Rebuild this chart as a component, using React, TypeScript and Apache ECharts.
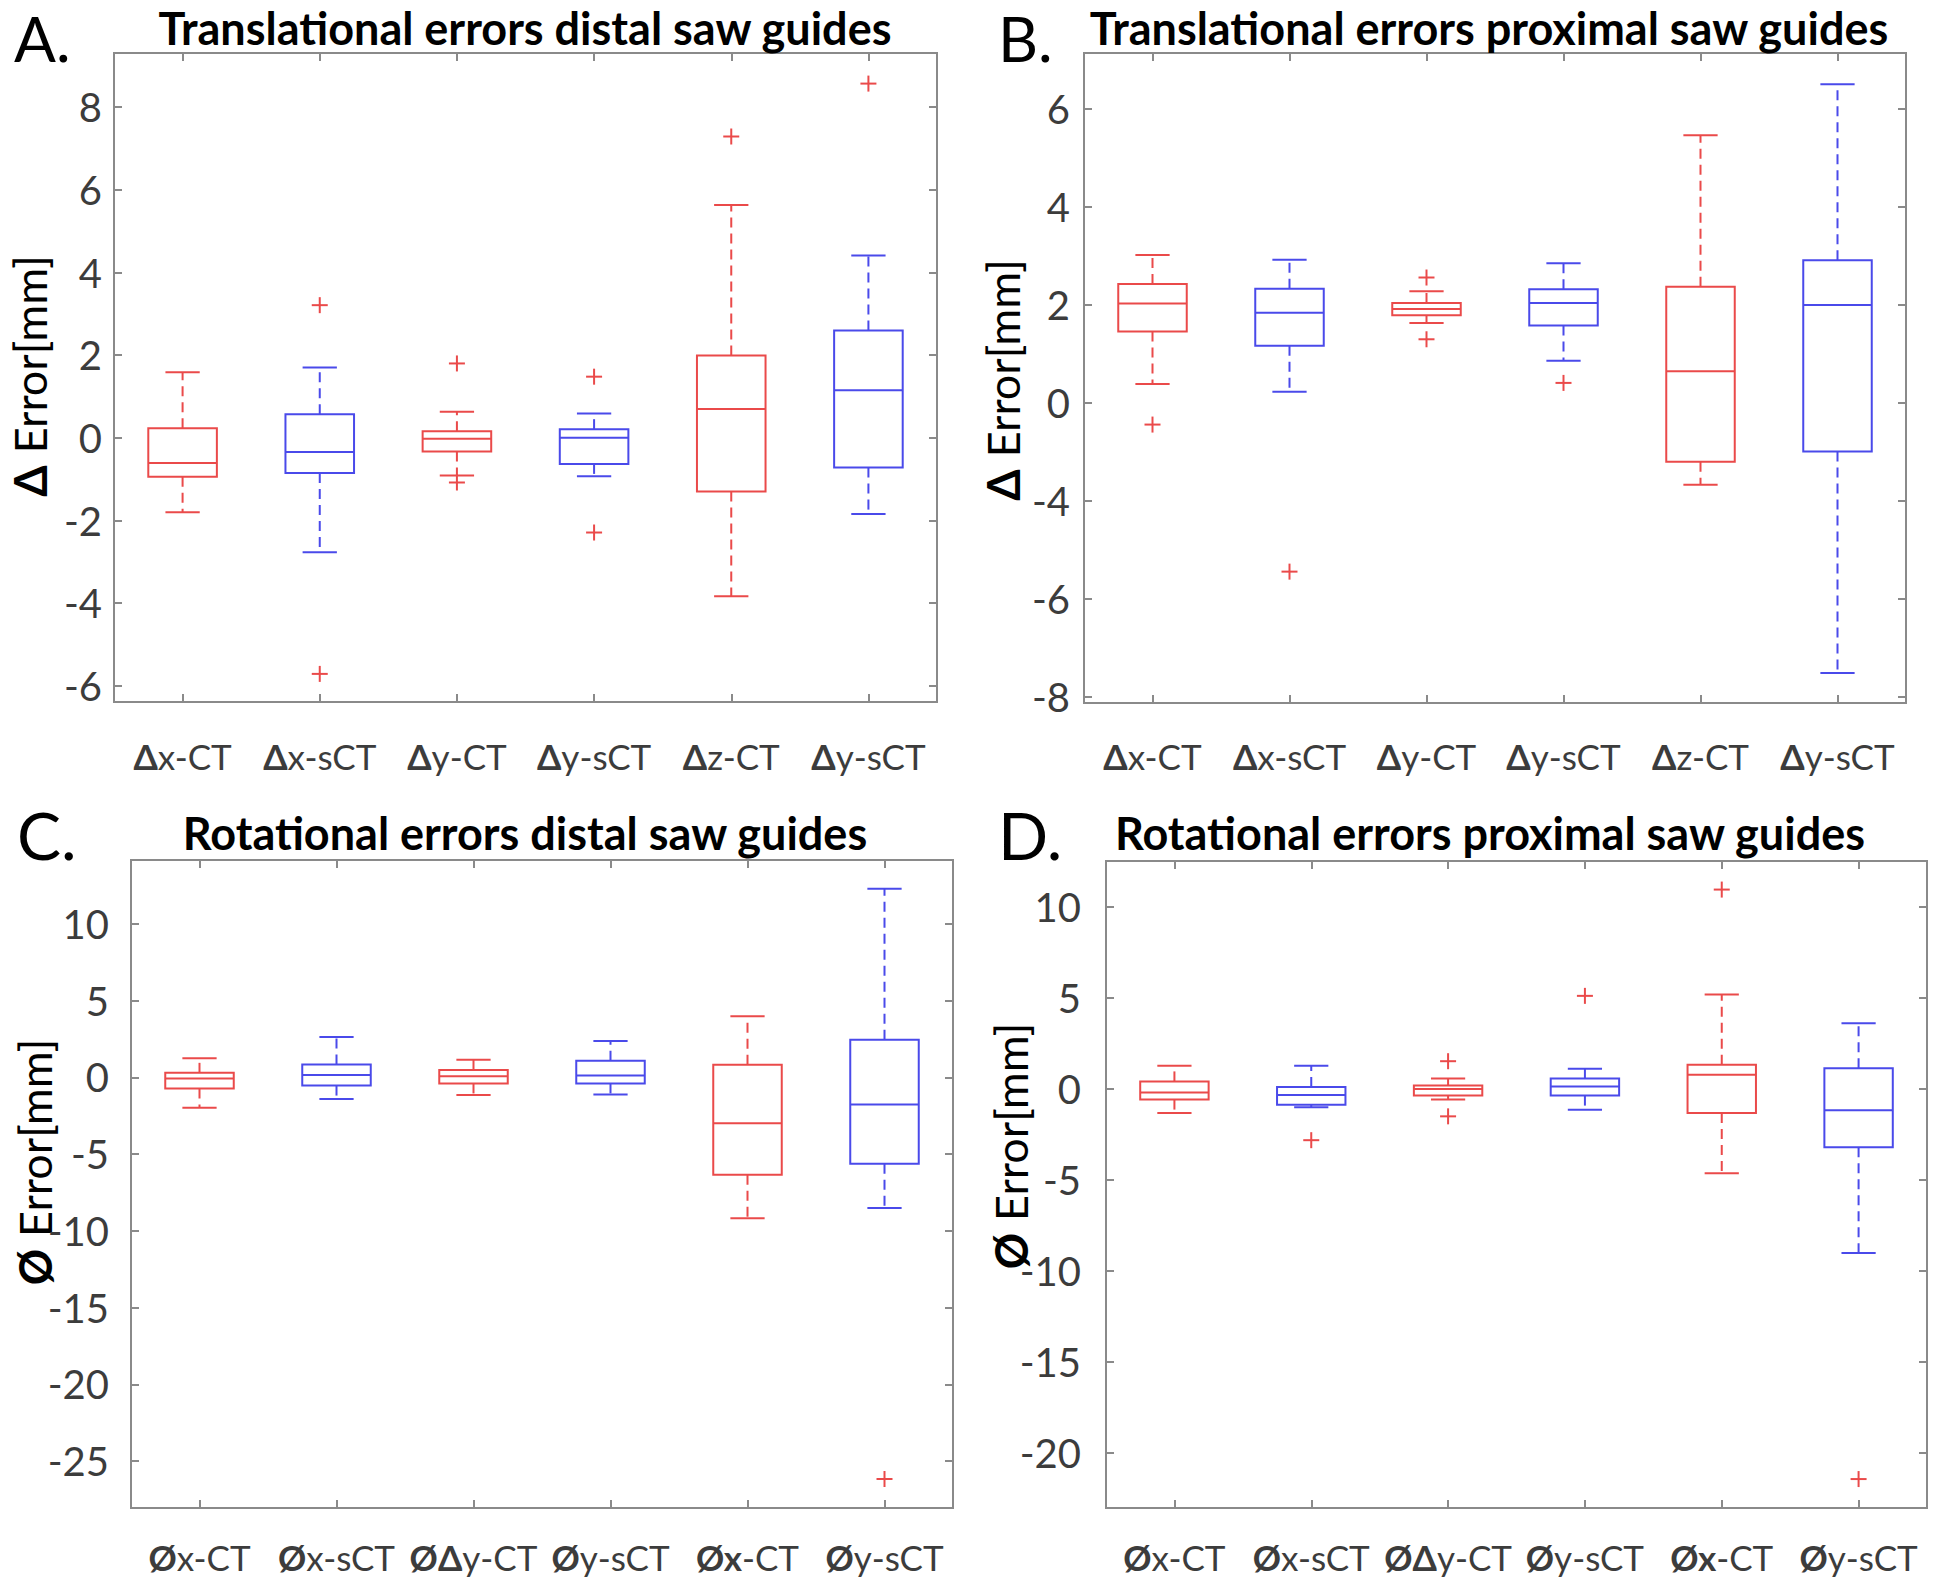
import React, { useEffect, useRef } from 'react';
import * as echarts from 'echarts';

// ---------- data ----------
const RED = '#ea4a4a';
const BLUE = '#4a4aea';
const boxColors = [RED, BLUE, RED, BLUE, RED, BLUE];
const outlierColor = RED;

const catsTrans = ['Δx-CT', 'Δx-sCT', 'Δy-CT', 'Δy-sCT', 'Δz-CT', 'Δy-sCT'];
const boldTrans = [1, 1, 1, 1, 1, 1];
const catsRot = ['Øx-CT', 'Øx-sCT', 'ØΔy-CT', 'Øy-sCT', 'Øx-CT', 'Øy-sCT'];
const boldRot = [1, 1, 2, 1, 2, 1];

const titles = [
  'Translational errors distal saw guides',
  'Translational errors proximal saw guides',
  'Rotational errors distal saw guides',
  'Rotational errors proximal saw guides',
];
const letters = ['A.', 'B.', 'C.', 'D.'];
const yNameSymbols = ['Δ', 'Δ', 'Ø', 'Ø'];
const yNameText = 'Error[mm]';

// Panel A
const aMin = [-1.8, -2.77, -0.91, -0.93, -3.83, -1.84];
const aQ1 = [-0.94, -0.85, -0.33, -0.63, -1.3, -0.72];
const aMed = [-0.61, -0.34, -0.02, 0.0, 0.7, 1.15];
const aQ3 = [0.23, 0.57, 0.16, 0.21, 1.99, 2.6];
const aMax = [1.59, 1.7, 0.63, 0.59, 5.63, 4.41];
const aOut = [[1, 3.21], [1, -5.71], [2, 1.8], [2, -1.08], [3, 1.48], [3, -2.29], [4, 7.29], [5, 8.57]];
const aTicks = [-6, -4, -2, 0, 2, 4, 6, 8];
const aTickLabels = ['-6', '-4', '-2', '0', '2', '4', '6', '8'];

// Panel B (tick labels as printed in the original: the -2 position is labelled -4 etc.)
const bMin = [0.39, 0.23, 1.63, 0.86, -1.67, -5.51];
const bQ1 = [1.46, 1.17, 1.79, 1.58, -1.2, -0.99];
const bMed = [2.03, 1.84, 1.92, 2.04, 0.65, 2.0];
const bQ3 = [2.43, 2.33, 2.04, 2.32, 2.37, 2.91];
const bMax = [3.02, 2.92, 2.28, 2.85, 5.46, 6.5];
const bOut = [[0, -0.44], [1, -3.44], [2, 2.56], [2, 1.3], [3, 0.41]];
const bTicks = [-6, -4, -2, 0, 2, 4, 6];
const bTickLabels = ['-8', '-6', '-4', '0', '2', '4', '6'];

// Panel C
const cMin = [-1.97, -1.41, -1.15, -1.12, -9.17, -8.51];
const cQ1 = [-0.72, -0.53, -0.39, -0.39, -6.34, -5.62];
const cMed = [-0.07, 0.16, 0.07, 0.13, -2.99, -1.77];
const cQ3 = [0.3, 0.85, 0.49, 1.08, 0.82, 2.46];
const cMax = [1.25, 2.63, 1.15, 2.37, 3.98, 12.29];
const cOut = [[5, -26.17]];
const cTicks = [-25, -20, -15, -10, -5, 0, 5, 10];
const cTickLabels = ['-25', '-20', '-15', '-10', '-5', '0', '5', '10'];

// Panel D
const dMin = [-1.31, -1.0, -0.58, -1.14, -4.62, -9.01];
const dQ1 = [-0.58, -0.86, -0.36, -0.36, -1.31, -3.2];
const dMed = [-0.19, -0.33, 0.0, 0.14, 0.78, -1.17];
const dQ3 = [0.42, 0.11, 0.19, 0.58, 1.33, 1.14];
const dMax = [1.28, 1.28, 0.58, 1.11, 5.2, 3.62];
const dOut = [[1, -2.81], [2, 1.53], [2, -1.5], [3, 5.12], [4, 10.96], [5, -21.43]];
const dTicks = [-20, -15, -10, -5, 0, 5, 10];
const dTickLabels = ['-20', '-15', '-10', '-5', '0', '5', '10'];

const yRanges = [
  [-6.39, 9.31],
  [-6.12, 7.14],
  [-28.06, 14.17],
  [-23.02, 12.53],
];

// ---------- layout ----------
const FONT = 'Lato, "Open Sans", sans-serif';
const AXIS_GRAY = '#8a8a8a';
const LABEL_COLOR = '#3c3c3c';

const panels = [
  {
    grid: { left: 114, top: 53, width: 823, height: 649 },
    cats: catsTrans, bold: boldTrans,
    stats: [aMin, aQ1, aMed, aQ3, aMax], out: aOut,
    ticks: aTicks, tickLabels: aTickLabels,
    yMargin: 12, xMargin: 36,
    title: [525, 28], letter: [14, 38], letterSize: 62, yname: [30, 376],
  },
  {
    grid: { left: 1084, top: 53, width: 822, height: 650 },
    cats: catsTrans, bold: boldTrans,
    stats: [bMin, bQ1, bMed, bQ3, bMax], out: bOut,
    ticks: bTicks, tickLabels: bTickLabels,
    yMargin: 14, xMargin: 35,
    title: [1489, 28], letter: [998, 38], letterSize: 62, yname: [1003, 380],
  },
  {
    grid: { left: 131, top: 860, width: 822, height: 648 },
    cats: catsRot, bold: boldRot,
    stats: [cMin, cQ1, cMed, cQ3, cMax], out: cOut,
    ticks: cTicks, tickLabels: cTickLabels,
    yMargin: 22, xMargin: 31,
    title: [525, 833], letter: [17, 834], letterSize: 66, yname: [35, 1162],
  },
  {
    grid: { left: 1106, top: 861, width: 821, height: 647 },
    cats: catsRot, bold: boldRot,
    stats: [dMin, dQ1, dMed, dQ3, dMax], out: dOut,
    ticks: dTicks, tickLabels: dTickLabels,
    yMargin: 25, xMargin: 31,
    title: [1490, 833], letter: [998, 834], letterSize: 66, yname: [1011, 1146],
  },
];

function buildOption() {
  const grid: any[] = [];
  const xAxis: any[] = [];
  const yAxis: any[] = [];
  const series: any[] = [];
  const graphic: any[] = [];

  panels.forEach((p, gi) => {
    grid.push({
      ...p.grid,
      show: true,
      borderColor: AXIS_GRAY,
      borderWidth: 2,
      backgroundColor: 'transparent',
    });
    const cats = p.cats;
    const bold = p.bold;
    const tickStyle = { show: true, inside: true, alignWithLabel: true, length: 8, lineStyle: { color: AXIS_GRAY, width: 2 } };
    xAxis.push({
      type: 'category',
      gridIndex: gi,
      position: 'bottom',
      data: cats,
      boundaryGap: true,
      axisLine: { show: false, onZero: false },
      axisTick: tickStyle,
      axisLabel: {
        margin: p.xMargin,
        interval: 0,
        formatter: (_v: string, idx: number) => {
          const s = cats[idx];
          const n = bold[idx];
          return `{b|${s.slice(0, n)}}{n|${s.slice(n)}}`;
        },
        rich: {
          b: { fontFamily: FONT, fontSize: 35, fontWeight: 'bold', color: LABEL_COLOR },
          n: { fontFamily: FONT, fontSize: 35, color: LABEL_COLOR },
        },
      },
      splitLine: { show: false },
    });
    xAxis.push({
      type: 'category',
      gridIndex: gi,
      position: 'top',
      data: cats,
      boundaryGap: true,
      axisLine: { show: false, onZero: false },
      axisTick: tickStyle,
      axisLabel: { show: false },
      splitLine: { show: false },
    });
    const [ymin, ymax] = yRanges[gi];
    const ticks = p.ticks;
    const tl = p.tickLabels;
    const yTick = { show: true, inside: true, length: 8, customValues: ticks, lineStyle: { color: AXIS_GRAY, width: 2 } };
    yAxis.push({
      type: 'value',
      gridIndex: gi,
      position: 'left',
      min: ymin,
      max: ymax,
      axisLine: { show: false, onZero: false },
      splitLine: { show: false },
      axisTick: yTick,
      axisLabel: {
        customValues: ticks,
        margin: p.yMargin,
        fontFamily: FONT,
        fontSize: 40,
        color: LABEL_COLOR,
        formatter: (v: number) => {
          const k = ticks.findIndex((t) => Math.abs(t - v) < 1e-6);
          return k >= 0 ? tl[k] : '';
        },
      },
    });
    yAxis.push({
      type: 'value',
      gridIndex: gi,
      position: 'right',
      min: ymin,
      max: ymax,
      axisLine: { show: false, onZero: false },
      splitLine: { show: false },
      axisTick: yTick,
      axisLabel: { show: false },
    });

    const [mn, q1, md, q3, mx] = p.stats;
    series.push({
      type: 'custom',
      xAxisIndex: gi * 2,
      yAxisIndex: gi * 2,
      silent: true,
      data: mn.map((_v, i) => [i, mn[i], q1[i], md[i], q3[i], mx[i]]),
      renderItem: (params: any, api: any) => {
        const i = api.value(0);
        const band = api.size([1, 0])[0];
        const bw = band * 0.5;
        const cw = band * 0.25;
        const x = api.coord([i, 0])[0];
        const yMin = api.coord([i, api.value(1)])[1];
        const yQ1 = api.coord([i, api.value(2)])[1];
        const yMed = api.coord([i, api.value(3)])[1];
        const yQ3 = api.coord([i, api.value(4)])[1];
        const yMax = api.coord([i, api.value(5)])[1];
        const color = boxColors[params.dataIndex];
        const solid = { stroke: color, lineWidth: 2, fill: null };
        const dashed = { stroke: color, lineWidth: 2, lineDash: [10, 6], fill: null };
        return {
          type: 'group',
          children: [
            { type: 'line', shape: { x1: x, y1: yQ3, x2: x, y2: yMax }, style: dashed },
            { type: 'line', shape: { x1: x, y1: yQ1, x2: x, y2: yMin }, style: dashed },
            { type: 'line', shape: { x1: x - cw / 2, y1: yMax, x2: x + cw / 2, y2: yMax }, style: solid },
            { type: 'line', shape: { x1: x - cw / 2, y1: yMin, x2: x + cw / 2, y2: yMin }, style: solid },
            { type: 'rect', shape: { x: x - bw / 2, y: yQ3, width: bw, height: yQ1 - yQ3 }, style: { ...solid, fill: '#fff' } },
            { type: 'line', shape: { x1: x - bw / 2, y1: yMed, x2: x + bw / 2, y2: yMed }, style: solid },
          ],
        };
      },
      z: 3,
    });
    series.push({
      type: 'custom',
      xAxisIndex: gi * 2,
      yAxisIndex: gi * 2,
      silent: true,
      data: p.out,
      renderItem: (_params: any, api: any) => {
        const pt = api.coord([api.value(0), api.value(1)]);
        const h = 8;
        const st = { stroke: outlierColor, lineWidth: 2 };
        return {
          type: 'group',
          children: [
            { type: 'line', shape: { x1: pt[0] - h, y1: pt[1], x2: pt[0] + h, y2: pt[1] }, style: st },
            { type: 'line', shape: { x1: pt[0], y1: pt[1] - h, x2: pt[0], y2: pt[1] + h }, style: st },
          ],
        };
      },
      z: 4,
    });

    graphic.push({
      type: 'text',
      x: p.title[0],
      y: p.title[1],
      style: {
        text: titles[gi],
        fontFamily: FONT,
        fontSize: 45,
        lineHeight: 40,
        fontWeight: 'bold',
        fill: '#000',
        align: 'center',
        verticalAlign: 'middle',
      },
    });
    graphic.push({
      type: 'text',
      x: p.letter[0],
      y: p.letter[1],
      style: {
        text: letters[gi],
        fontFamily: FONT,
        fontSize: p.letterSize,
        lineHeight: 54,
        fill: '#000',
        align: 'left',
        verticalAlign: 'middle',
      },
    });
    graphic.push({
      type: 'text',
      x: p.yname[0],
      y: p.yname[1],
      rotation: Math.PI / 2,
      style: {
        text: `{b|${yNameSymbols[gi]}}{n|${yNameText}}`,
        align: 'center',
        verticalAlign: 'middle',
        rich: {
          b: { fontFamily: FONT, fontSize: 45, fontWeight: 'bold', fill: '#000', padding: [0, 12, 0, 0] },
          n: { fontFamily: FONT, fontSize: 45, fill: '#000' },
        },
      },
    });
  });

  return {
    animation: false,
    backgroundColor: '#fff',
    grid,
    xAxis,
    yAxis,
    series,
    graphic,
  };
}

export default function App() {
  const ref = useRef<HTMLDivElement>(null);
  useEffect(() => {
    document.body.style.margin = '0';
    if (!ref.current) return;
    const chart = echarts.init(ref.current, undefined, { renderer: 'svg' });
    chart.setOption(buildOption() as any);
    return () => chart.dispose();
  }, []);
  return <div ref={ref} style={{ width: 1946, height: 1583, position: 'absolute', left: 0, top: 0 }} />;
}
